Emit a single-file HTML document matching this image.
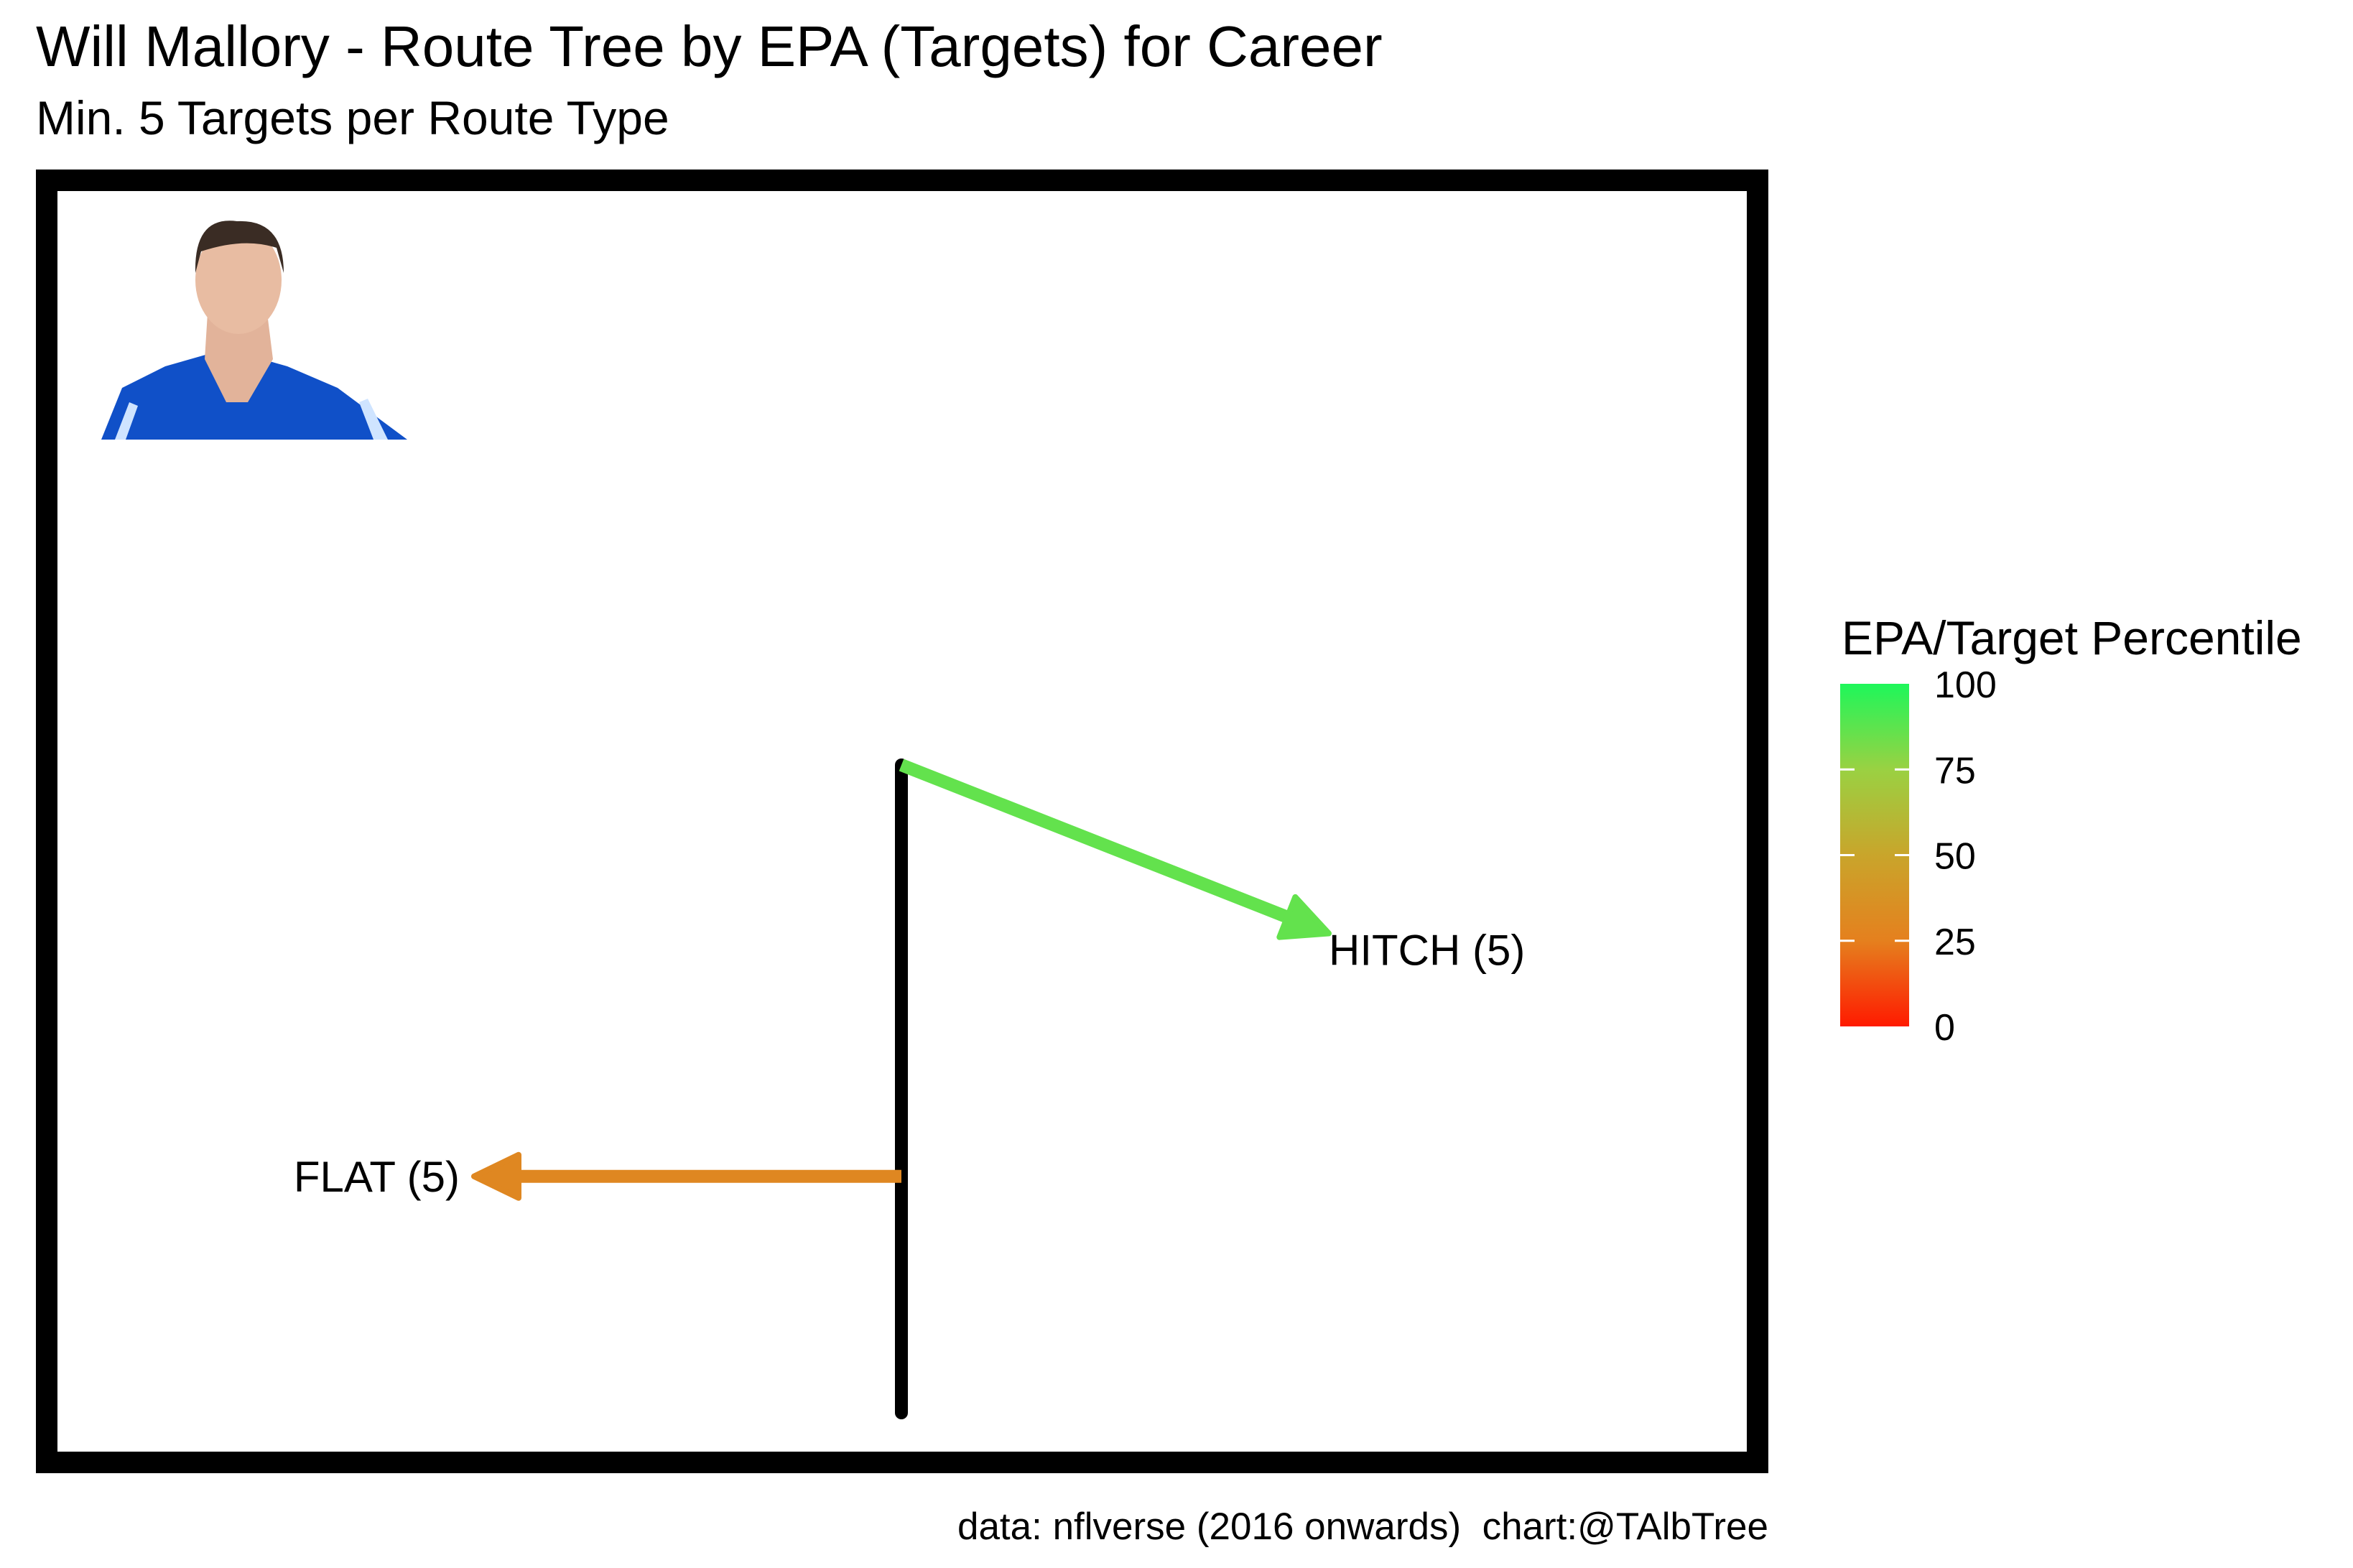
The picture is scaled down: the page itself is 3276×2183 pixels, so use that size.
<!DOCTYPE html>
<html><head><meta charset="utf-8"><style>
html,body{margin:0;padding:0;background:#fff}
svg{display:block}
text{font-family:"Liberation Sans",Arial,sans-serif;fill:#000}
</style></head><body>
<svg id="chart" width="3276" height="2183" viewBox="0 0 3276 2183" xmlns="http://www.w3.org/2000/svg">
<defs>
<linearGradient id="lg" x1="0" y1="1" x2="0" y2="0">
<stop offset="0" stop-color="#ff1a00"/><stop offset="0.25" stop-color="#e5801e"/><stop offset="0.5" stop-color="#c9a52b"/><stop offset="0.75" stop-color="#9ad142"/><stop offset="1" stop-color="#1ef75a"/>
</linearGradient>
</defs>
<text x="50" y="92" font-size="80">Will Mallory - Route Tree by EPA (Targets) for Career</text>
<text x="50" y="187" font-size="66">Min. 5 Targets per Route Type</text>
<rect x="65" y="251" width="2382" height="1785" fill="#fff" stroke="#000" stroke-width="30"/>
<g>
<path d="M141 612 L170 540 L230 510 L300 490 L330 490 L400 510 L470 540 L567 612 Z" fill="#1050c8"/>
<path d="M160 612 L180 560 L192 565 L175 612 Z M520 612 L500 560 L512 555 L540 612 Z" fill="#cfe4ff"/>
<path d="M290 420 L370 420 L380 500 L345 560 L315 560 L285 500 Z" fill="#e2b39a"/>
<ellipse cx="332" cy="390" rx="60" ry="75" fill="#e8bca2"/>
<path d="M272 380 Q270 300 330 308 Q395 305 395 380 L385 345 Q340 330 280 350 Z" fill="#3a2c24"/>
</g>
<g id="marks"></g>
<g>
<text x="2564" y="911" font-size="66">EPA/Target Percentile</text>
<rect x="2562" y="952" width="96" height="477" fill="url(#lg)"/>
<g id="legend-ticks"></g>
</g>
<text x="2462" y="2143" font-size="53" text-anchor="end" xml:space="preserve" style="white-space:pre">data: nflverse (2016 onwards)  chart:@TAlbTree</text>
</svg>
<script>
const routeNames = ["HITCH", "FLAT"];
const routeTargets = [5, 5];
const routePercentiles = [86, 30];
const routeStartX = [0, 0];
const routeStartY = [10, 3.65];
const routeEndX = [5, -5];
const routeEndY = [7.4, 3.65];
const stemY = [0, 10];
const legendTicks = [0, 25, 50, 75, 100];

const NS = "http://www.w3.org/2000/svg";
const X0 = 1255, KX = 119, Y0 = 1967, KY = 90.2;
function xs(v){ return X0 + v*KX; }
function ys(v){ return Y0 - v*KY; }
const LT = 1429, LB = 952;
function ls(v){ return LT - (v/100)*(LT-LB); }
const stops = [[0,[255,26,0]],[25,[229,128,30]],[50,[201,165,43]],[75,[154,209,66]],[100,[30,247,90]]];
function col(p){
  for(let i=0;i<stops.length-1;i++){
    const a=stops[i], b=stops[i+1];
    if(p<=b[0]){ const t=(p-a[0])/(b[0]-a[0]);
      return "rgb("+a[1].map((c,j)=>Math.round(c+(b[1][j]-c)*t)).join(",")+")"; }
  }
  return "rgb(30,247,90)";
}
const g = document.getElementById("marks");
const stem = document.createElementNS(NS,"line");


stem.setAttribute("x1", xs(0)); stem.setAttribute("x2", xs(0));
stem.setAttribute("y1", ys(stemY[1])); stem.setAttribute("y2", ys(stemY[0]));
stem.setAttribute("stroke", "#000"); stem.setAttribute("stroke-width", "18"); stem.setAttribute("stroke-linecap", "round");
g.appendChild(stem);
for(let i=0;i<routeNames.length;i++){
  const x1=xs(routeStartX[i]), y1=ys(routeStartY[i]), x2=xs(routeEndX[i]), y2=ys(routeEndY[i]);
  const c = col(routePercentiles[i]);
  const dx=x2-x1, dy=y2-y1, L=Math.hypot(dx,dy), ux=dx/L, uy=dy/L;
  const hl=62, hw=30;
  const bx=x2-ux*hl, by=y2-uy*hl;
  const ln=document.createElementNS(NS,"line");
  
  
  ln.setAttribute("x1",x1); ln.setAttribute("y1",y1); ln.setAttribute("x2",bx+ux*5); ln.setAttribute("y2",by+uy*5);
  ln.setAttribute("stroke",c); ln.setAttribute("stroke-width","18");
  g.appendChild(ln);
  const hd=document.createElementNS(NS,"polygon");
  
  
  hd.setAttribute("points", x2+","+y2+" "+(bx-uy*hw)+","+(by+ux*hw)+" "+(bx+uy*hw)+","+(by-ux*hw));
  hd.setAttribute("fill",c); hd.setAttribute("stroke",c); hd.setAttribute("stroke-width","8"); hd.setAttribute("stroke-linejoin","round");
  g.appendChild(hd);
  const t=document.createElementNS(NS,"text");
  
  
  t.setAttribute("font-size","60");
  if(dx<0){ t.setAttribute("x", x2-20); t.setAttribute("y", y2+21); t.setAttribute("text-anchor","end"); }
  else { t.setAttribute("x", x2); t.setAttribute("y", y2+44); }
  t.textContent = routeNames[i]+" ("+routeTargets[i]+")";
  g.appendChild(t);
}
const lt=document.getElementById("legend-ticks");
legendTicks.forEach(v=>{
  const y=ls(v);
  if(v>0 && v<100){
    [[2562,2582],[2638,2658]].forEach(([a,b])=>{
      const l=document.createElementNS(NS,"line");
      
      
      l.setAttribute("x1",a); l.setAttribute("x2",b); l.setAttribute("y1",y); l.setAttribute("y2",y);
      l.setAttribute("stroke","#fff"); l.setAttribute("stroke-width","3");
      lt.appendChild(l);
    });
  }
  const t=document.createElementNS(NS,"text");
  
  
  t.setAttribute("x",2693); t.setAttribute("y",y+19); t.setAttribute("font-size","52");
  t.textContent=v;
  lt.appendChild(t);
});
</script>
</body></html>
